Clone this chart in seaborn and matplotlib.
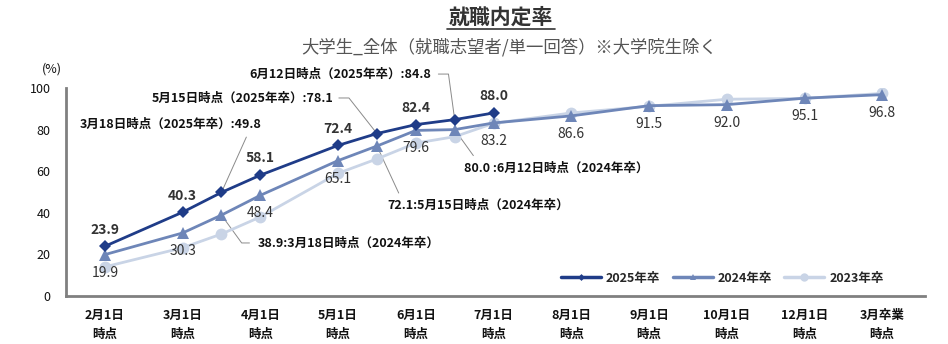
import matplotlib
matplotlib.use("Agg")
import matplotlib.pyplot as plt
import seaborn as sns
import pandas as pd
from matplotlib.lines import Line2D

sns.set_theme(style="white")
plt.rcParams['font.family'] = ['Noto Sans CJK JP', 'DejaVu Sans']

# ---------------- data ----------------
tick_labels = ["2月1日\n時点", "3月1日\n時点", "4月1日\n時点", "5月1日\n時点", "6月1日\n時点",
               "7月1日\n時点", "8月1日\n時点", "9月1日\n時点", "10月1日\n時点", "12月1日\n時点",
               "3月卒業\n時点"]
survey_points = ["2/1", "3/1", "3/18", "4/1", "5/1", "5/15", "6/1", "6/12", "7/1",
                 "8/1", "9/1", "10/1", "12/1", "3月卒業"]
# position of each survey on the category axis (intermediate surveys sit between categories)
survey_pos = [0, 1, 1.5, 2, 3, 3.5, 4, 4.5, 5, 6, 7, 8, 9, 10]

values_2025 = [23.9, 40.3, 49.8, 58.1, 72.4, 78.1, 82.4, 84.8, 88.0]
values_2024 = [19.9, 30.3, 38.9, 48.4, 65.1, 72.1, 79.6, 80.0, 83.2, 86.6, 91.5, 92.0, 95.1, 96.8]
values_2023 = [14.0, 23.2, 29.8, 38.0, 59.0, 65.9, 73.5, 76.6, 83.0, 88.0, 91.2, 94.6, 95.0, 97.4]

series_names = ["2025年卒", "2024年卒", "2023年卒"]
series_values = [values_2025, values_2024, values_2023]

# labelled (main) survey points
main_points = ["2/1", "3/1", "4/1", "5/1", "6/1", "7/1", "8/1", "9/1", "10/1", "12/1", "3月卒業"]

rows = []
for name, vals in zip(series_names, series_values):
    for p, x, v in zip(survey_points, survey_pos, vals):
        rows.append({"series": name, "point": p, "x": x, "value": v})
df = pd.DataFrame(rows)

# ---------------- style ----------------
colors = {"2025年卒": "#1F3C88", "2024年卒": "#6E86B8", "2023年卒": "#C9D4E6"}
markers = {"2025年卒": "D", "2024年卒": "^", "2023年卒": "o"}
msizes = {"2025年卒": 6, "2024年卒": 8, "2023年卒": 8.5}
zorders = {"2025年卒": 5, "2024年卒": 4, "2023年卒": 3}

fig = plt.figure(figsize=(9.48, 3.44), dpi=100)
ax = fig.add_axes([66 / 948, 48 / 344, (925 - 66) / 948, (296 - 88) / 344])

for name in ["2023年卒", "2024年卒", "2025年卒"]:
    sub = df[df["series"] == name]
    sns.lineplot(data=sub, x="x", y="value", ax=ax, color=colors[name],
                 marker=markers[name], markersize=msizes[name],
                 markeredgewidth=0, linewidth=2.0, zorder=zorders[name],
                 legend=False, sort=False)

ax.set_xlim(-0.5, 10.55)
ax.set_ylim(0, 100)
ax.set_xticks(range(len(tick_labels)))
ax.set_xticklabels(tick_labels, fontsize=9, fontweight="bold", color="#111111", linespacing=1.6)
ax.set_yticks([0, 20, 40, 60, 80, 100])
ax.set_yticklabels(["0", "20", "40", "60", "80", "100"], fontsize=9, color="#111111")
ax.tick_params(axis="x", length=0, pad=9)
ax.tick_params(axis="y", length=0, pad=11)
ax.set_xlabel("")
ax.set_ylabel("")
for s in ["top", "right"]:
    ax.spines[s].set_visible(False)
for s in ["left", "bottom"]:
    ax.spines[s].set_color("#808080")
    ax.spines[s].set_linewidth(2.0)
ax.grid(False)

ax.text(-0.68, 109, "(%)", fontsize=9, ha="center", va="center", color="#111111", clip_on=False)

# ---------------- data labels ----------------
for name, dy, weight in [("2025年卒", 12, "bold"), ("2024年卒", -13, "normal")]:
    sub = df[(df["series"] == name) & (df["point"].isin(main_points))]
    for _, r in sub.iterrows():
        ax.annotate(f"{r['value']:.1f}", (r["x"], r["value"]), xytext=(0, dy),
                    textcoords="offset points", ha="center", va="center",
                    fontsize=10, fontweight=weight, color="#333333", zorder=6)

# ---------------- callouts for intermediate surveys ----------------
def val(name, point):
    return df[(df["series"] == name) & (df["point"] == point)]["value"].iloc[0]

def xpos(point):
    return survey_pos[survey_points.index(point)]

lc = "#8a8a8a"
lw = 0.7
afont = dict(fontsize=9, color="#111111", fontweight="bold", va="center", ha="left", clip_on=False)

# 2025 callouts
v = val("2025年卒", "3/18")
ax.text(-0.32, 82.7, f"3月18日時点（2025年卒）:{v:.1f}", **afont)
ax.plot([1.82, xpos("3/18")], [76.4, v], color=lc, lw=lw, zorder=2)

v = val("2025年卒", "5/15")
ax.text(0.60, 95.2, f"5月15日時点（2025年卒）:{v:.1f}", **afont)
ax.plot([3.01, 3.14, xpos("5/15")], [95.2, 95.2, v], color=lc, lw=lw, zorder=2)

v = val("2025年卒", "6/12")
ax.text(1.86, 106.7, f"6月12日時点（2025年卒）:{v:.1f}", **afont)
ax.plot([4.29, 4.42, xpos("6/12")], [106.7, 106.7, v], color=lc, lw=lw, zorder=2, clip_on=False)

# 2024 callouts
v = val("2024年卒", "5/15")
ax.text(3.63, 43.7, f"{v:.1f}:5月15日時点（2024年卒）", **afont)
ax.plot([xpos("5/15"), 3.78], [v, 49.5], color=lc, lw=lw, zorder=2)

v = val("2024年卒", "6/12")
ax.text(4.62, 61.5, f"{v:.1f} :6月12日時点（2024年卒）", **afont)
ax.plot([xpos("6/12"), 4.74], [v, 67.5], color=lc, lw=lw, zorder=2)

v = val("2024年卒", "3/18")
ax.text(1.96, 25.3, f"{v:.1f}:3月18日時点（2024年卒）", **afont)
ax.plot([xpos("3/18"), 1.76, 1.86], [v, 25.5, 25.5], color=lc, lw=lw, zorder=2)

# ---------------- legend ----------------
handles = [Line2D([], [], color=colors[n], lw=2.5, marker=markers[n],
                  markersize={"2025年卒": 3.5, "2024年卒": 4.5, "2023年卒": 6}[n],
                  markeredgewidth=0) for n in series_names]
leg = ax.legend(handles, series_names, loc="lower left", bbox_to_anchor=(0.57, 0.03),
                ncol=3, frameon=False, handlelength=3.2, handletextpad=0.4,
                columnspacing=1.0, borderaxespad=0,
                prop={"weight": "bold", "size": 9})

# ---------------- titles ----------------
fig.text(501 / 948, 1 - 17 / 344, "就職内定率", fontsize=15, fontweight="bold",
         ha="center", va="center", color="#333333")
fig.add_artist(Line2D([447 / 948, 555 / 948], [1 - 29 / 344, 1 - 29 / 344],
                      color="#333333", lw=1.2))
fig.text(509 / 948, 1 - 47 / 344, "大学生_全体（就職志望者/単一回答）※大学院生除く",
         fontsize=12.5, ha="center", va="center", color="#555555")

fig.savefig("out.png", dpi=100)
